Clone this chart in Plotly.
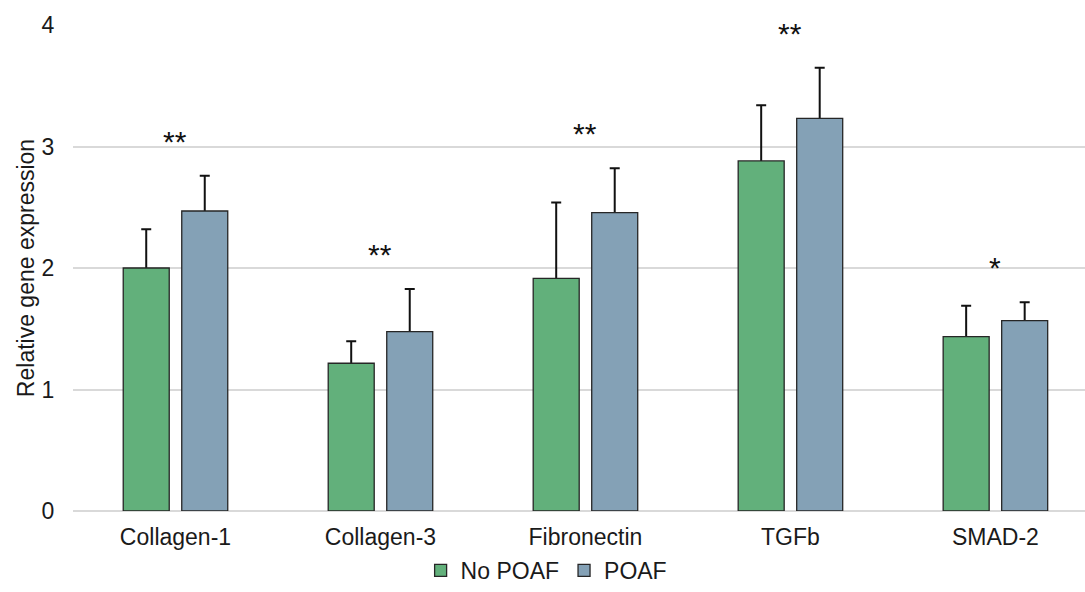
import plotly.graph_objects as go

categories = ["Collagen-1", "Collagen-3", "Fibronectin", "TGFb", "SMAD-2"]
no_poaf = [2.00, 1.216, 1.915, 2.881, 1.435]
no_poaf_err = [0.318, 0.181, 0.625, 0.458, 0.255]
poaf = [2.469, 1.477, 2.456, 3.232, 1.567]
poaf_err = [0.291, 0.350, 0.364, 0.417, 0.151]
significance = ["**", "**", "**", "**", "*"]
series_names = ["No POAF", "POAF"]
y_ticks = [0, 1, 2, 3, 4]

GREEN = "#62B07B"
BLUE = "#84A1B6"
FONT = "Liberation Sans, Arial, sans-serif"
series = [
    (series_names[0], no_poaf, no_poaf_err, GREEN, "g1"),
    (series_names[1], poaf, poaf_err, BLUE, "g2"),
]

fig = go.Figure()
# error bars first (drawn underneath the bars so the lower half is hidden)
for name, vals, errs, col, grp in series:
    fig.add_trace(go.Bar(
        x=categories, y=vals, name=name + " err", offsetgroup=grp, showlegend=False,
        marker=dict(color="rgba(0,0,0,0)", line=dict(width=0)), hoverinfo="skip",
        error_y=dict(type="data", array=errs, symmetric=True,
                     color="#111111", thickness=2, width=5),
    ))
for name, vals, errs, col, grp in series:
    fig.add_trace(go.Bar(
        x=categories, y=vals, name=name, offsetgroup=grp,
        marker=dict(color=col, line=dict(color="#262626", width=1.3)),
    ))

for i, (cat, s) in enumerate(zip(categories, significance)):
    top = max(no_poaf[i] + no_poaf_err[i], poaf[i] + poaf_err[i])
    fig.add_annotation(x=cat, y=top, text=s, showarrow=False,
                       yanchor="bottom", yshift=16,
                       font=dict(size=30, color="#111111", family=FONT))

fig.update_layout(
    width=1085, height=592,
    margin=dict(l=73, r=0, t=25, b=81, autoexpand=False),
    paper_bgcolor="white", plot_bgcolor="white",
    barmode="group", bargap=0.429, bargroupgap=0.214,
    font=dict(family=FONT, size=23, color="#1a1a1a"),
    showlegend=True,
    legend=dict(orientation="h", x=0.468, xanchor="center",
                yref="container", y=-0.01, yanchor="bottom",
                font=dict(size=23), itemwidth=30, traceorder="normal",
                tracegroupgap=0),
    xaxis=dict(range=[-0.5, 4.437], showgrid=False, showline=False, zeroline=False,
               ticks="outside", ticklen=5, tickcolor="rgba(0,0,0,0)", automargin=False),
    yaxis=dict(range=[0, 4], tickvals=y_ticks, showgrid=True, gridcolor="#D9D9D9",
               gridwidth=1.5, zeroline=True, zerolinecolor="#D9D9D9", zerolinewidth=1.5,
               showline=False, ticks="outside", ticklen=13, tickcolor="rgba(0,0,0,0)",
               automargin=False,
               title=dict(text="Relative gene expression", standoff=0, font=dict(size=23))),
)

fig.write_html("out.html")
